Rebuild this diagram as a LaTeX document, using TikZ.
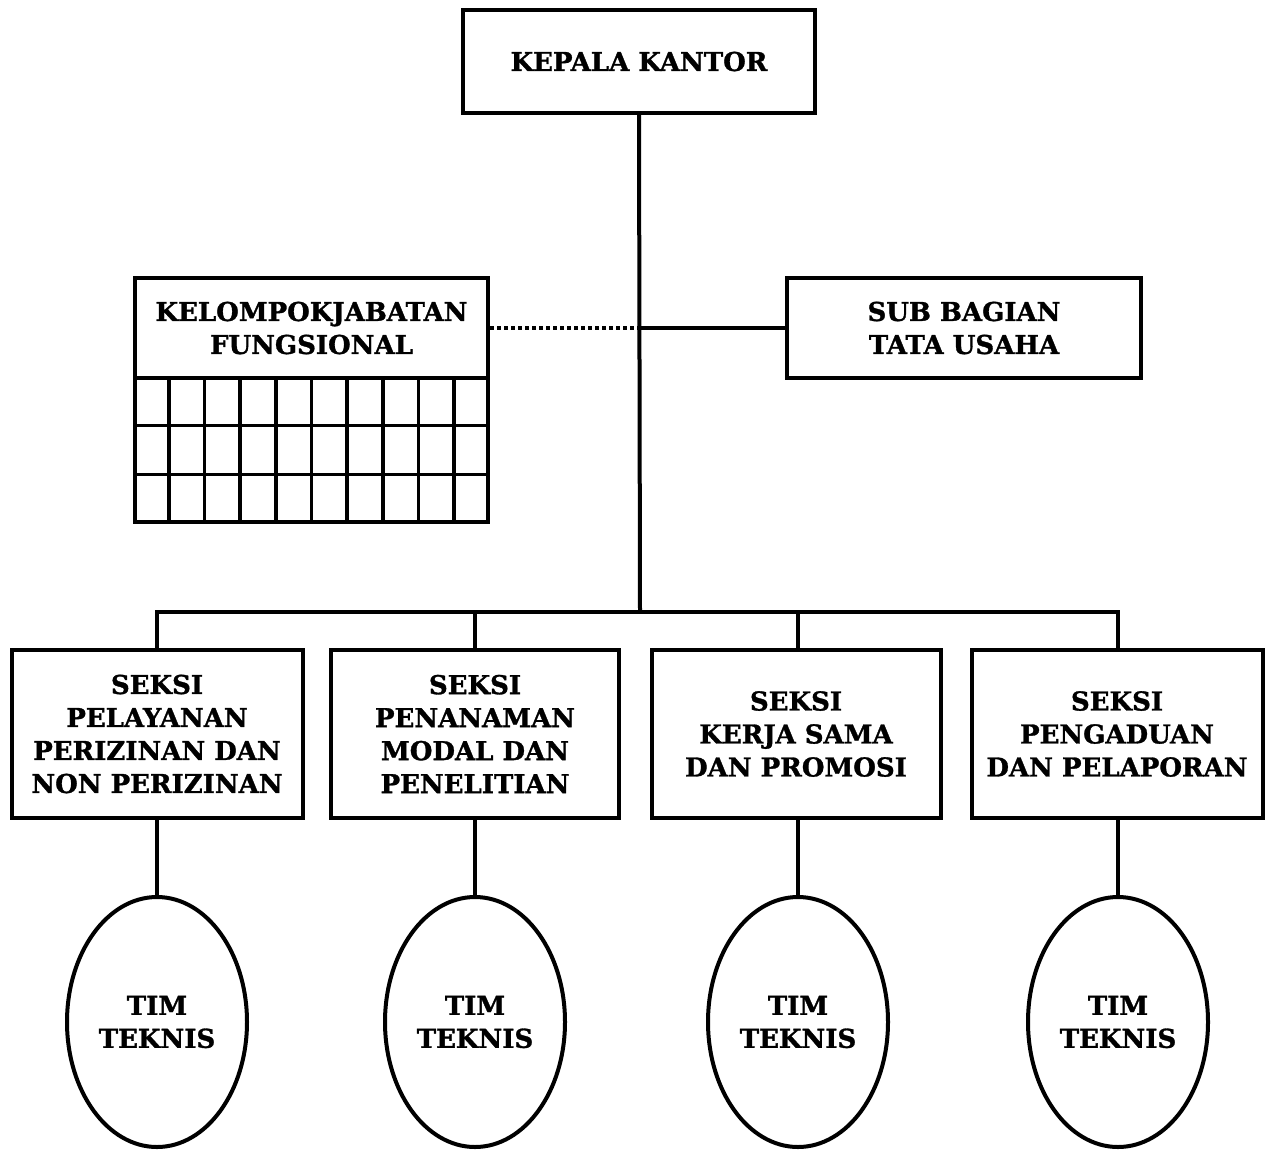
\documentclass[tikz,border=0pt]{standalone}
\usepackage{fontspec}
\setmainfont{DejaVu Serif}
\newfontfamily\heavyfont[FakeBold=1.2]{DejaVu Serif Bold}
\usetikzlibrary{shapes.geometric,calc}
\begin{document}
\begin{tikzpicture}[x=1pt,y=-1pt,
  txt/.style={font=\heavyfont\fontsize{26}{33}\selectfont, align=center},
  box/.style={txt, draw, line width=4pt, rectangle, inner sep=0pt},
  oval/.style={txt, draw, line width=4pt, ellipse, inner sep=0pt, minimum width=180, minimum height=250},
  conn/.style={line width=4pt},
  dotconn/.style={line width=4pt, dash pattern=on 4pt off 3pt},
  gridline/.style={line width=3.5pt}]
\useasboundingbox (0,0) rectangle (1266,1149);
% top
\node[box, minimum width=352, minimum height=103] (kk) at (639,61.5) {KEPALA KANTOR};
% functional group
\node[box, minimum width=353, minimum height=100] (kel) at (311.5,328) {KELOMPOKJABATAN\\FUNGSIONAL};
\node[draw, line width=3.5pt, rectangle, inner sep=0pt, minimum width=353, minimum height=144] (kgrid) at (311.5,450) {};
\foreach \i in {1,...,9} {
  \draw[gridline] ($(kgrid.north west)!\i/10!(kgrid.north east)$) -- ($(kgrid.south west)!\i/10!(kgrid.south east)$);
}
\foreach \j in {1,2} {
  \draw[gridline] ($(kgrid.north west)!\j/3!(kgrid.south west)$) -- ($(kgrid.north east)!\j/3!(kgrid.south east)$);
}
% sub bagian
\node[box, minimum width=354, minimum height=100] (sub) at (964,328) {SUB BAGIAN\\TATA USAHA};
% bus coordinates
\coordinate (junc) at (640,328);
\coordinate (bus) at (640,612);
\coordinate (b1) at (157,612);
\coordinate (b2) at (475,612);
\coordinate (b3) at (798,612);
\coordinate (b4) at (1118,612);
% sections
\node[box, minimum width=291, minimum height=168] (s1) at (157,734) {SEKSI\\PELAYANAN\\PERIZINAN DAN\\NON PERIZINAN};
\node[box, minimum width=288, minimum height=168] (s2) at (475,734) {SEKSI\\PENANAMAN\\MODAL DAN\\PENELITIAN};
\node[box, minimum width=289, minimum height=168] (s3) at (796,734) {SEKSI\\KERJA SAMA\\DAN PROMOSI};
\node[box, minimum width=291, minimum height=168] (s4) at (1117,734) {SEKSI\\PENGADUAN\\DAN PELAPORAN};
% teams
\node[oval] (t1) at (157,1022) {TIM\\TEKNIS};
\node[oval] (t2) at (475,1022) {TIM\\TEKNIS};
\node[oval] (t3) at (798,1022) {TIM\\TEKNIS};
\node[oval] (t4) at (1118,1022) {TIM\\TEKNIS};
% connectors
\draw[conn] (kk.south) -- (bus);
\draw[dotconn] (kel.east) -- (junc);
\draw[conn] (junc) -- (sub.west);
\draw[conn, line cap=rect] (b1) -- (b4);
\draw[conn] (b1) -- (b1 |- s1.north);
\draw[conn] (b2) -- (b2 |- s2.north);
\draw[conn] (b3) -- (b3 |- s3.north);
\draw[conn] (b4) -- (b4 |- s4.north);
\draw[conn] (t1.north |- s1.south) -- (t1.north);
\draw[conn] (t2.north |- s2.south) -- (t2.north);
\draw[conn] (t3.north |- s3.south) -- (t3.north);
\draw[conn] (t4.north |- s4.south) -- (t4.north);
\end{tikzpicture}
\end{document}
